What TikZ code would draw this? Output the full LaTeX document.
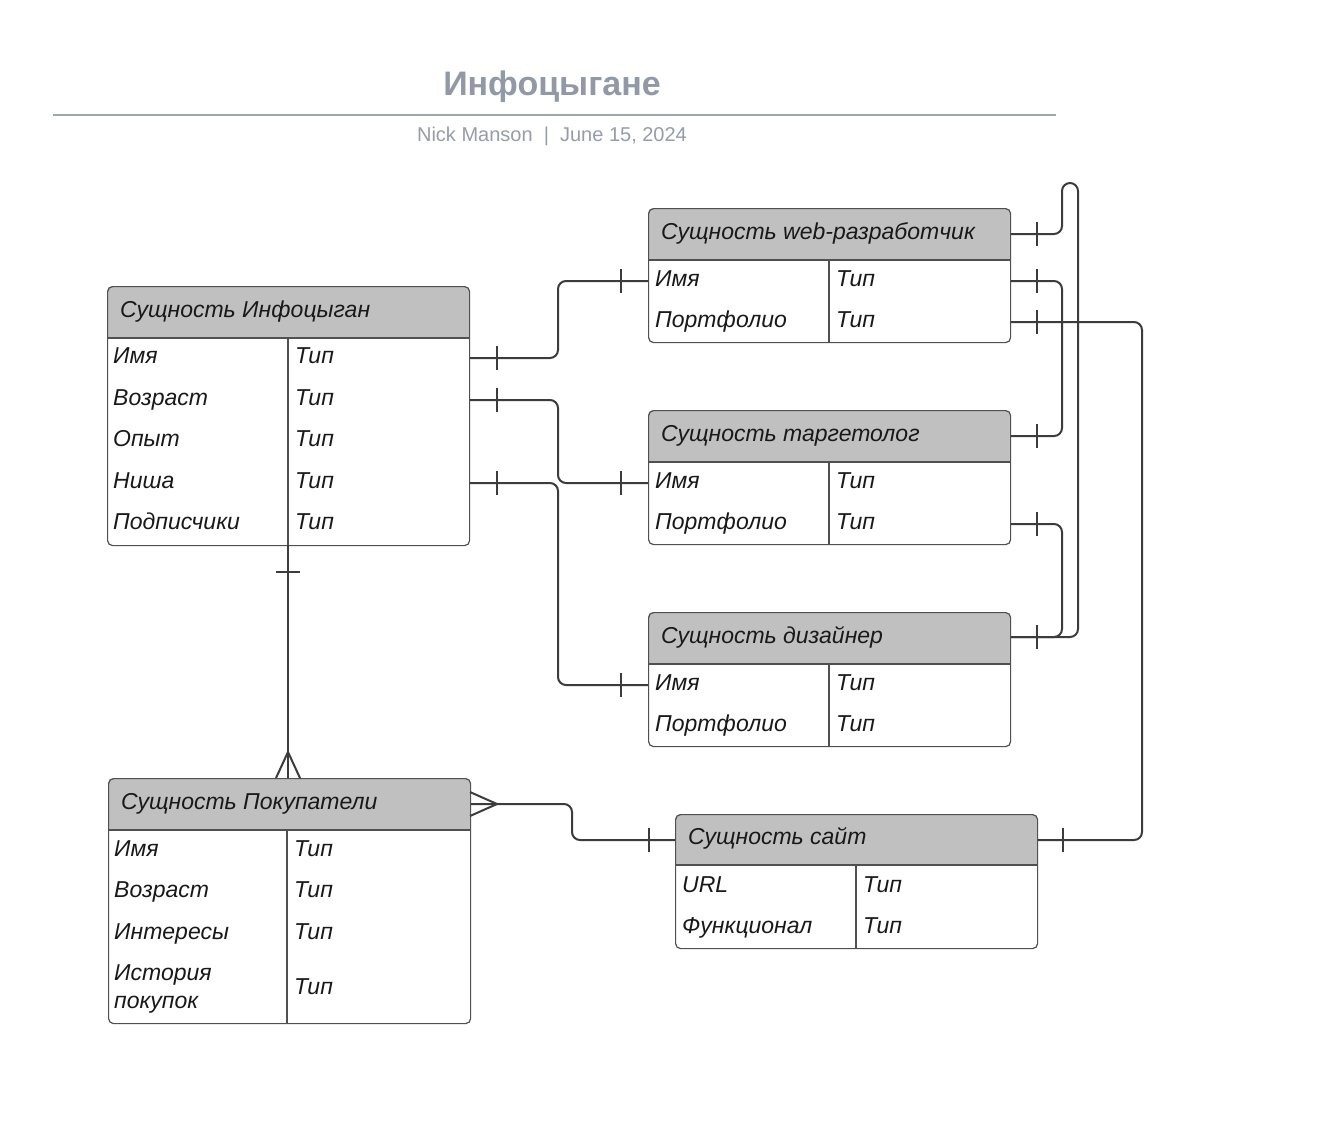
\documentclass[tikz,border=0pt]{standalone}
\usepackage{fontspec}
\setmainfont{Liberation Sans}
\definecolor{titlec}{RGB}{145,152,166}
\definecolor{rulec}{RGB}{160,166,176}
\definecolor{subc}{RGB}{150,156,170}
\definecolor{hdrc}{RGB}{192,192,192}
\definecolor{bordc}{RGB}{80,80,80}
\definecolor{connc}{RGB}{60,60,60}
\definecolor{txtc}{RGB}{25,25,25}
\tikzset{
  entline/.style={draw=bordc, line width=1.2pt},
  entbox/.style={draw=bordc, line width=1.2pt, rounded corners=5pt, inner sep=0pt},
  conn/.style={draw=connc, line width=2pt, rounded corners=8pt},
  tickm/.style={draw=connc, line width=2pt},
  etxt/.style={font=\fontsize{23}{27}\selectfont\itshape, anchor=base west, inner sep=0pt, text=txtc},
}
% #1 name, #2 x1, #3 y1, #4 x2, #5 header bottom, #6 y2, #7 column x, #8 title
\newcommand\ertable[8]{%
  \begin{scope}
    \clip[rounded corners=5pt] (#2,#3) rectangle (#4,#6);
    \fill[white] (#2,#3) rectangle (#4,#6);
    \fill[hdrc] (#2,#3) rectangle (#4,#5);
  \end{scope}
  \draw[entline] (#2,#5) -- (#4,#5);
  \draw[entline] (#7,#5) -- (#7,#6);
  \node[entbox, anchor=north west, minimum width={#4pt-#2pt}, minimum height={#6pt-#3pt}] (#1) at (#2,#3) {};
  \node[etxt] (#1-title) at ({#2+13},{(#3+#5)/2+5}) {#8};
}
% #1 name, #2 x left text, #3 x type text, #4 y center, #5 field, #6 type
\newcommand\errow[6]{%
  \node[etxt] (#1-f) at (#2,{#4+8}) {#5};
  \node[etxt] (#1-t) at (#3,{#4+8}) {#6};
}
\newcommand\vtick[2]{\draw[tickm] (#1,{#2-12}) -- (#1,{#2+12});}
\begin{document}
\begin{tikzpicture}[x=1pt,y=-1pt]
\useasboundingbox[fill=white] (0,0) rectangle (1340,1130);

% title block
\node[font=\bfseries\fontsize{34}{38}\selectfont, text=titlec] (title) at (552,87) {Инфоцыгане};
\draw[draw=rulec, line width=2.5pt] (53,115) -- (1056,115);
\node[font=\fontsize{20}{22}\selectfont, text=subc] (subtitle) at (552,136) {Nick Manson\ \ |\ \ June 15, 2024};

% Инфоцыган
\ertable{inf}{107}{286}{469}{338}{545}{288}{Сущность Инфоцыган}
\errow{inf1}{113}{295}{355}{Имя}{Тип}
\errow{inf2}{113}{295}{397}{Возраст}{Тип}
\errow{inf3}{113}{295}{438}{Опыт}{Тип}
\errow{inf4}{113}{295}{480}{Ниша}{Тип}
\errow{inf5}{113}{295}{521}{Подписчики}{Тип}

% web
\ertable{web}{648}{208}{1010}{260}{342}{829}{Сущность web-разработчик}
\errow{web1}{655}{836}{278}{Имя}{Тип}
\errow{web2}{655}{836}{319}{Портфолио}{Тип}

% таргетолог
\ertable{trg}{648}{410}{1010}{462}{544}{829}{Сущность таргетолог}
\errow{trg1}{655}{836}{480}{Имя}{Тип}
\errow{trg2}{655}{836}{521}{Портфолио}{Тип}

% дизайнер
\ertable{diz}{648}{612}{1010}{664}{746}{829}{Сущность дизайнер}
\errow{diz1}{655}{836}{682}{Имя}{Тип}
\errow{diz2}{655}{836}{723}{Портфолио}{Тип}

% Покупатели
\ertable{buy}{108}{778}{470}{830}{1023}{287}{Сущность Покупатели}
\errow{buy1}{114}{294}{848}{Имя}{Тип}
\errow{buy2}{114}{294}{889}{Возраст}{Тип}
\errow{buy3}{114}{294}{931}{Интересы}{Тип}
\node[etxt] (buy4-f1) at (114,{972+8}) {История};
\node[etxt] (buy4-f2) at (114,{1000+8}) {покупок};
\node[etxt] (buy4-t) at (294,{986+8}) {Тип};

% сайт
\ertable{site}{675}{814}{1037}{865}{948}{856}{Сущность сайт}
\errow{site1}{682}{863}{884}{URL}{Тип}
\errow{site2}{682}{863}{925}{Функционал}{Тип}

% connection points
\coordinate (infA) at (inf.east |- 0,358);
\coordinate (infB) at (inf.east |- 0,400);
\coordinate (infC) at (inf.east |- 0,483);
\coordinate (infS) at (288,545);
\coordinate (webL) at (web.west |- 0,281);
\coordinate (trgL) at (trg.west |- 0,483);
\coordinate (dizL) at (diz.west |- 0,685);
\coordinate (webH) at (web.east |- 0,234);
\coordinate (webR1) at (web.east |- 0,281);
\coordinate (webR2) at (web.east |- 0,322);
\coordinate (trgH) at (trg.east |- 0,436);
\coordinate (trgR2) at (trg.east |- 0,524);
\coordinate (dizH) at (diz.east |- 0,637);
\coordinate (buyN) at (288,778);
\coordinate (buyH) at (buy.east |- 0,804);
\coordinate (siteL) at (site.west |- 0,840);
\coordinate (siteR) at (site.east |- 0,840);

% left connectors
\draw[conn] (infA) -- (558,358) -- (558,281) -- (webL);
\vtick{497}{358} \vtick{621}{281}
\draw[conn] (infB) -- (558,400) -- (558,483) -- (trgL);
\vtick{497}{400} \vtick{621}{483}
\draw[conn] (infC) -- (558,483) -- (558,685) -- (dizL);
\vtick{497}{483} \vtick{621}{685}

% Инфоцыган -> Покупатели
\draw[conn] (infS) -- (buyN);
\draw[tickm] (276,572) -- (300,572);
\draw[tickm] (276,778) -- (288,752) -- (300,778);

% Покупатели -> сайт
\draw[conn] (buyH) -- (572,804) -- (572,840) -- (siteL);
\draw[tickm] (470,792) -- (497,804) -- (470,816);
\vtick{649}{840}

% right connectors
\draw[conn] (webH) -- (1062,234) -- (1062,183) -- (1078,183) -- (1078,637) -- (dizH);
\vtick{1037}{234}
\draw[conn] (webR1) -- (1062,281) -- (1062,436) -- (trgH);
\vtick{1037}{281} \vtick{1037}{436}
\draw[conn] (webR2) -- (1142,322) -- (1142,840) -- (siteR);
\vtick{1037}{322} \vtick{1063}{840}
\draw[conn] (trgR2) -- (1062,524) -- (1062,637) -- (dizH);
\vtick{1037}{524} \vtick{1037}{637}
\end{tikzpicture}
\end{document}
